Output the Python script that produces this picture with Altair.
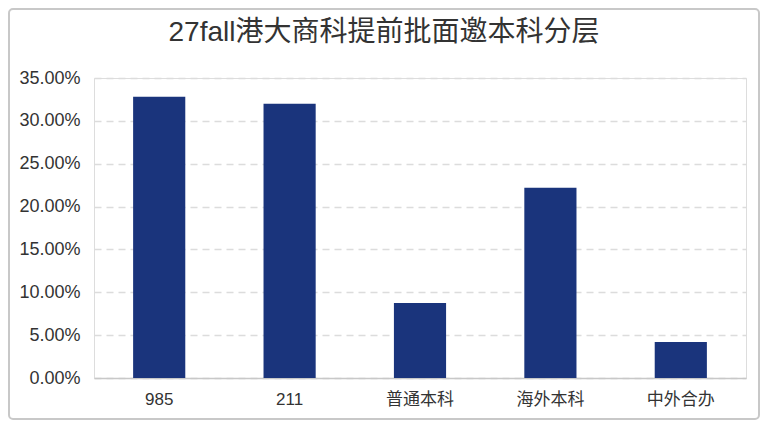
import altair as alt
import pandas as pd

title_text = "27fall港大商科提前批面邀本科分层"
categories = ["985", "211", "普通本科", "海外本科", "中外合办"]
shares = [0.328, 0.320, 0.0875, 0.222, 0.042]
y_ticks = [0, 0.05, 0.10, 0.15, 0.20, 0.25, 0.30, 0.35]

df = pd.DataFrame({"cat": categories, "share": shares})

FONT = "Liberation Sans, Noto Sans CJK SC"

bars = alt.Chart(df).mark_bar(color="#1a347c").encode(
    x=alt.X("cat:N", sort=categories, title=None,
            scale=alt.Scale(paddingInner=0.6, paddingOuter=0.3),
            axis=alt.Axis(labelAngle=0, labelFontSize=17, labelColor="#333",
                          labelPadding=13, ticks=False, domainColor="#c8c8c8",
                          domainWidth=1.5, labelFont=FONT)),
    y=alt.Y("share:Q", title=None,
            scale=alt.Scale(domain=[0, 0.35], nice=False),
            axis=alt.Axis(values=y_ticks, format=".2%", labelFontSize=18,
                          labelColor="#333", labelPadding=14, ticks=False,
                          domain=False, grid=True, gridColor="#dcdcdc",
                          gridDash=[7, 5], gridWidth=1.5, labelFont=FONT)),
)

one = pd.DataFrame({"k": [0]})

frame = alt.Chart(one).mark_rect(
    fill=None, stroke="#c8c8c8", strokeWidth=2, cornerRadius=4, clip=False
).encode(
    x=alt.value(-85), x2=alt.value(665), y=alt.value(-69), y2=alt.value(341)
)

title = alt.Chart(one).mark_text(
    fontSize=28, color="#333", font=FONT, align="center", baseline="middle"
).encode(
    x=alt.value(290), y=alt.value(-45), text=alt.value(title_text)
)

chart = alt.layer(frame, bars, title).properties(
    width=652, height=300,
    autosize=alt.AutoSizeParams(type="none"),
    padding={"left": 86, "top": 70, "right": 14, "bottom": 42},
).configure_view(
    stroke="#dcdcdc", strokeDash=[7, 5], strokeWidth=1.5
).configure(background="white")

chart.save("out.html", embed_options={"renderer": "svg", "actions": False})
